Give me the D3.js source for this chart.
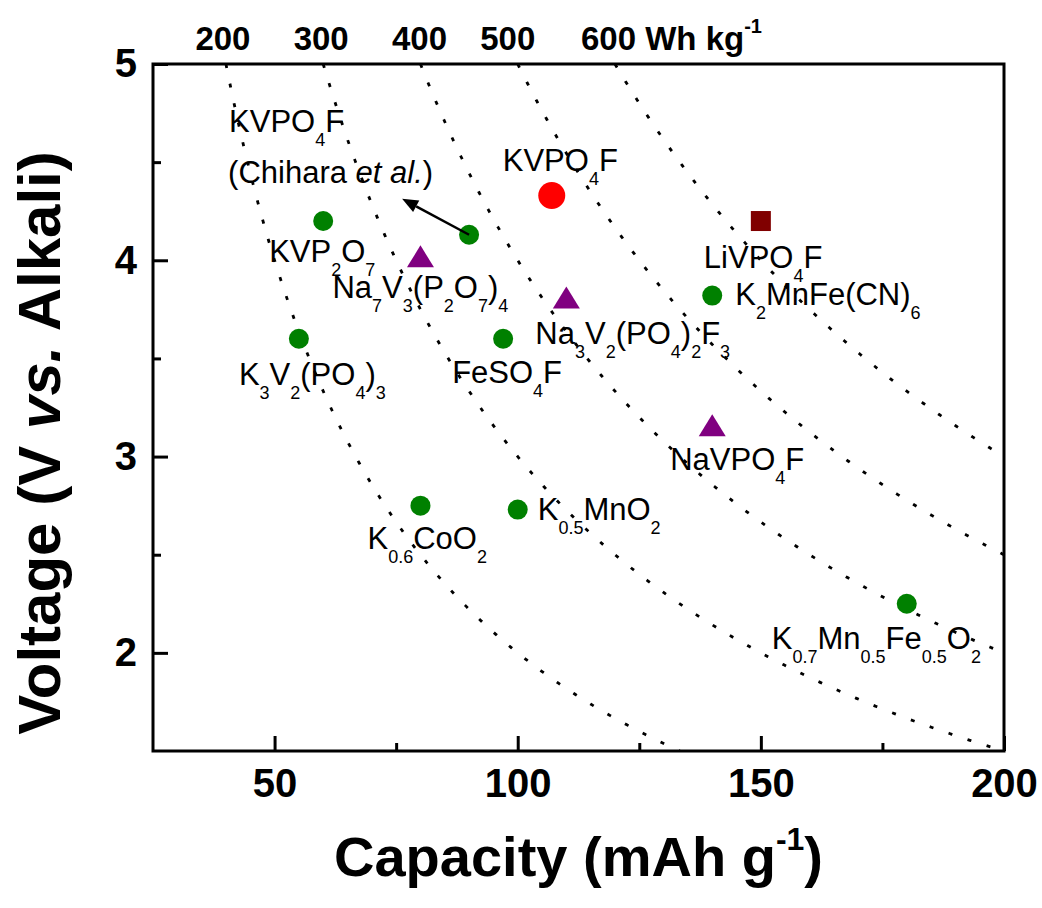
<!DOCTYPE html>
<html>
<head>
<meta charset="utf-8">
<script src="https://cdn.jsdelivr.net/npm/d3@7"></script>
<style>
  body { margin: 0; background: #fff; }
  svg { display: block; }
  text { font-family: "Liberation Sans", Arial, sans-serif; fill: #000; }
</style>
</head>
<body>
<svg id="chart" width="1042" height="908"></svg>
<script>
// Cathode materials: specific capacity (mAh/g) vs. average voltage (V vs. alkali metal)
const materials = [
  "KVPO4F", "KVPO4F (Chihara et al.)", "KVP2O7", "Na7V3(P2O7)4", "Na3V2(PO4)2F3",
  "K3V2(PO4)3", "FeSO4F", "LiVPO4F", "K2MnFe(CN)6", "NaVPO4F",
  "K0.6CoO2", "K0.5MnO2", "K0.7Mn0.5Fe0.5O2"
];
const capacity = [107, 90, 60, 80, 110, 55, 97, 150, 140, 140, 80, 100, 180];
const voltage  = [4.33, 4.13, 4.20, 4.02, 3.81, 3.60, 3.60, 4.20, 3.82, 3.16, 2.75, 2.73, 2.25];
const markerKind = [
  "highlight", "circle", "circle", "triangle", "triangle",
  "circle", "circle", "square", "circle", "triangle",
  "circle", "circle", "circle"
];

// Iso-energy-density guides (Wh/kg): V = E / C
const energyLevels = [200, 300, 400, 500, 600];

// Axis ticks
const xTicks = [50, 100, 150, 200];
const xMinorTicks = [75, 125, 175];
const yTicks = [2, 3, 4, 5];
const yMinorTicks = [2.5, 3.5, 4.5];

// Rich-text labels: [text, style] where style is "" | "sub" | "it"
const labelLines = [
  [[["KVPO", ""], ["4", "sub"], ["F", ""]]],
  [[["KVPO", ""], ["4", "sub"], ["F", ""]],
   [["(Chihara ", ""], ["et al.", "it"], [")", ""]]],
  [[["KVP", ""], ["2", "sub"], ["O", ""], ["7", "sub"]]],
  [[["Na", ""], ["7", "sub"], ["V", ""], ["3", "sub"], ["(P", ""], ["2", "sub"], ["O", ""], ["7", "sub"], [")", ""], ["4", "sub"]]],
  [[["Na", ""], ["3", "sub"], ["V", ""], ["2", "sub"], ["(PO", ""], ["4", "sub"], [")", ""], ["2", "sub"], ["F", ""], ["3", "sub"]]],
  [[["K", ""], ["3", "sub"], ["V", ""], ["2", "sub"], ["(PO", ""], ["4", "sub"], [")", ""], ["3", "sub"]]],
  [[["FeSO", ""], ["4", "sub"], ["F", ""]]],
  [[["LiVPO", ""], ["4", "sub"], ["F", ""]]],
  [[["K", ""], ["2", "sub"], ["MnFe(CN)", ""], ["6", "sub"]]],
  [[["NaVPO", ""], ["4", "sub"], ["F", ""]]],
  [[["K", ""], ["0.6", "sub"], ["CoO", ""], ["2", "sub"]]],
  [[["K", ""], ["0.5", "sub"], ["MnO", ""], ["2", "sub"]]],
  [[["K", ""], ["0.7", "sub"], ["Mn", ""], ["0.5", "sub"], ["Fe", ""], ["0.5", "sub"], ["O", ""], ["2", "sub"]]]
];

// Label placement: pixel offsets of each line's start/baseline from its marker
const labelOffsets = [
  [[-49, -25]],
  [[-240, -103], [-241, -52]],
  [[-54, 41]],
  [[-88, 42]],
  [[-31, 46]],
  [[-60, 46]],
  [[-51, 44]],
  [[-57, 47]],
  [[23, 9]],
  [[-42, 45]],
  [[-53, 43]],
  [[20, 10]],
  [[-135, 45]]
];
// Shift of each energy label from the top end of its guide curve
const energyLabelShift = [-3, -2, -1, -10, -6];

const svg = d3.select("#chart");
svg.append("rect").attr("width", 1042).attr("height", 908).attr("fill", "#fff");

const x = d3.scaleLinear().domain([25, 200]).range([153, 1004]);
const y = d3.scaleLinear().domain([1.5, 5]).range([751, 64]);

svg.append("defs").append("clipPath").attr("id", "plotClip")
  .append("rect")
  .attr("x", x(25)).attr("y", y(5))
  .attr("width", x(200) - x(25)).attr("height", y(1.5) - y(5));

// Dotted iso-energy curves
const curveLine = d3.line().x(d => x(d[0])).y(d => y(d[1]));
const curves = svg.append("g").attr("clip-path", "url(#plotClip)");
energyLevels.forEach(E => {
  const cStart = E / 5, cEnd = Math.min(200, E / 1.5);
  const pts = d3.range(0, 301).map(i => {
    const c = cStart + (cEnd - cStart) * i / 300;
    return [c, E / c];
  });
  curves.append("path")
    .attr("d", curveLine(pts))
    .attr("fill", "none")
    .attr("stroke", "#000")
    .attr("stroke-width", 2.8)
    .attr("stroke-dasharray", "4 16");
});

// Energy labels along the top edge
const topLabels = svg.append("g")
  .attr("font-size", 33).attr("font-weight", "bold");
energyLevels.forEach((E, i) => {
  const cx = x(E / 5) + energyLabelShift[i];
  if (i < energyLevels.length - 1) {
    topLabels.append("text").attr("x", cx).attr("y", 50)
      .attr("text-anchor", "middle").text(E);
  } else {
    const t = topLabels.append("text").attr("x", cx - 28).attr("y", 50);
    t.append("tspan").text(E + " Wh kg");
    t.append("tspan").attr("font-size", 20).attr("dy", -17).text("-1");
  }
});

// Axes with inward ticks
function styleAxis(g) {
  g.select(".domain").remove();
  g.selectAll(".tick line").attr("stroke", "#000").attr("stroke-width", 3);
  g.selectAll(".tick text").attr("font-size", 40).attr("font-weight", "bold")
    .attr("font-family", "Liberation Sans, Arial, sans-serif").attr("fill", "#000");
}
const fmt = d3.format("d");
svg.append("g").attr("transform", `translate(0,${y(1.5)})`)
  .call(d3.axisBottom(x).tickValues(xTicks).tickFormat(fmt)
    .tickSizeInner(-15).tickSizeOuter(0).tickPadding(18))
  .call(styleAxis);
svg.append("g").attr("transform", `translate(0,${y(1.5)})`)
  .call(d3.axisBottom(x).tickValues(xMinorTicks).tickSizeInner(-8).tickSizeOuter(0).tickFormat(""))
  .call(styleAxis);
svg.append("g").attr("transform", `translate(${x(25)},0)`)
  .call(d3.axisLeft(y).tickValues(yTicks).tickFormat(fmt)
    .tickSizeInner(-15).tickSizeOuter(0).tickPadding(16))
  .call(styleAxis);
svg.append("g").attr("transform", `translate(${x(25)},0)`)
  .call(d3.axisLeft(y).tickValues(yMinorTicks).tickSizeInner(-8).tickSizeOuter(0).tickFormat(""))
  .call(styleAxis);

// Frame
svg.append("rect")
  .attr("x", x(25)).attr("y", y(5))
  .attr("width", x(200) - x(25)).attr("height", y(1.5) - y(5))
  .attr("fill", "none").attr("stroke", "#000").attr("stroke-width", 3);

// Markers
const markerStyle = {
  highlight: { color: "#ff0000" },
  circle:    { color: "#008000" },
  triangle:  { color: "#800080" },
  square:    { color: "#800000" }
};
const marks = svg.append("g");
materials.forEach((m, i) => {
  const px = x(capacity[i]), py = y(voltage[i]);
  const kind = markerKind[i];
  const col = markerStyle[kind].color;
  if (kind === "highlight") {
    marks.append("circle").attr("cx", px).attr("cy", py).attr("r", 13.5).attr("fill", col);
  } else if (kind === "circle") {
    marks.append("circle").attr("cx", px).attr("cy", py).attr("r", 10).attr("fill", col);
  } else if (kind === "square") {
    marks.append("rect").attr("x", px - 10).attr("y", py - 10)
      .attr("width", 20).attr("height", 20).attr("fill", col);
  } else {
    const w = 27, h = 22;
    marks.append("path")
      .attr("d", `M${px},${py - h / 2}L${px + w / 2},${py + h / 2}L${px - w / 2},${py + h / 2}Z`)
      .attr("fill", col);
  }
});

// Arrow pointing from the Chihara et al. point toward its label
const ax0 = x(capacity[1]), ay0 = y(voltage[1]);
const ax1 = ax0 - 67, ay1 = ay0 - 36;
const ang = Math.atan2(ay1 - ay0, ax1 - ax0);
const headLen = 16, headHalf = 6.5;
const bx = ax1 - headLen * Math.cos(ang), by = ay1 - headLen * Math.sin(ang);
svg.append("line")
  .attr("x1", ax0).attr("y1", ay0).attr("x2", bx).attr("y2", by)
  .attr("stroke", "#000").attr("stroke-width", 2.5);
svg.append("path")
  .attr("d", `M${ax1},${ay1}L${bx - headHalf * Math.sin(ang)},${by + headHalf * Math.cos(ang)}` +
             `L${bx + headHalf * Math.sin(ang)},${by - headHalf * Math.cos(ang)}Z`)
  .attr("fill", "#000");

// Material labels with subscripts
const labels = svg.append("g").attr("font-size", 31);
materials.forEach((m, i) => {
  const px = x(capacity[i]), py = y(voltage[i]);
  labelLines[i].forEach((segs, j) => {
    const [dx, dy] = labelOffsets[i][j];
    const t = labels.append("text").attr("x", px + dx).attr("y", py + dy);
    let shifted = false;
    segs.forEach(([s, style]) => {
      const ts = t.append("tspan").text(s);
      if (style === "sub") {
        ts.attr("font-size", 18);
        if (!shifted) { ts.attr("dy", 14); shifted = true; }
      } else {
        if (shifted) { ts.attr("dy", -14); shifted = false; }
        if (style === "it") ts.attr("font-style", "italic");
      }
    });
  });
});

// Axis titles
const xt = svg.append("text")
  .attr("x", (x(25) + x(200)) / 2).attr("y", 876)
  .attr("text-anchor", "middle").attr("font-size", 56).attr("font-weight", "bold");
xt.append("tspan").text("Capacity (mAh g");
xt.append("tspan").attr("font-size", 32).attr("dy", -26).text("-1");
xt.append("tspan").attr("dy", 26).text(")");

const yt = svg.append("text")
  .attr("transform", "translate(60,443) rotate(-90)")
  .attr("text-anchor", "middle").attr("font-size", 60).attr("font-weight", "bold");
yt.append("tspan").text("Voltage (V ");
yt.append("tspan").attr("font-style", "italic").text("vs.");
yt.append("tspan").text(" Alkali)");
</script>
</body>
</html>
